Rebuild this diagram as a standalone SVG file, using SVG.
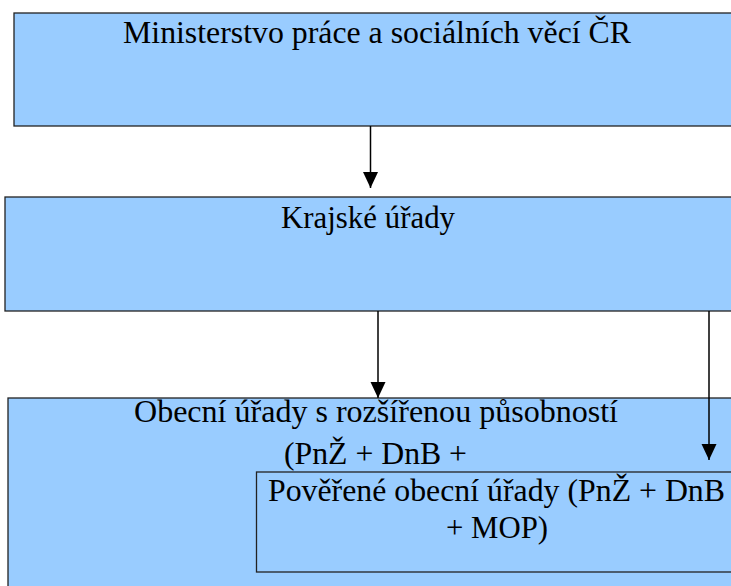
<svg xmlns="http://www.w3.org/2000/svg" width="731" height="586" viewBox="0 0 731 586">
<style>
.box{fill:#99CCFF;stroke:#222;stroke-width:1.3}
.t{font-family:"Liberation Serif","Times New Roman",serif;font-size:30.5px;fill:#000}
.conn line{stroke:#000;stroke-width:1.5}
</style>
<defs>
<marker id="ah" markerWidth="16" markerHeight="16" viewBox="0 0 16 16" refX="16" refY="8" orient="auto" markerUnits="userSpaceOnUse">
<path d="M0,0.5 L16,8 L0,15.5 Z" fill="#000"/>
</marker>
</defs>
<g id="ministerstvo">
<rect class="box" x="14" y="13" width="730" height="113"/>
<text class="t" x="123" y="43" textLength="508" lengthAdjust="spacingAndGlyphs">Ministerstvo práce a sociálních věcí ČR</text>
</g>
<g id="krajske">
<rect class="box" x="5" y="197" width="740" height="114"/>
<text class="t" x="281" y="228" textLength="174" lengthAdjust="spacingAndGlyphs">Krajské úřady</text>
</g>
<g id="obecni">
<rect class="box" x="8" y="398" width="740" height="200"/>
<text class="t" x="134" y="422" textLength="484" lengthAdjust="spacingAndGlyphs">Obecní úřady s rozšířenou působností</text>
<text class="t" x="284" y="464" textLength="183" lengthAdjust="spacingAndGlyphs">(PnŽ + DnB +</text>
</g>
<g id="poverene">
<rect class="box" x="256.5" y="472" width="490" height="100"/>
<text class="t" x="268" y="501" textLength="457" lengthAdjust="spacingAndGlyphs">Pověřené obecní úřady (PnŽ + DnB</text>
<text class="t" x="446" y="538" textLength="102" lengthAdjust="spacingAndGlyphs">+ MOP)</text>
</g>
<g class="conn" id="connectors">
<line x1="370.5" y1="126" x2="370.5" y2="188" marker-end="url(#ah)"/>
<line x1="378" y1="311" x2="378" y2="398" marker-end="url(#ah)"/>
<line x1="709" y1="311" x2="709" y2="460" marker-end="url(#ah)"/>
</g>
</svg>
